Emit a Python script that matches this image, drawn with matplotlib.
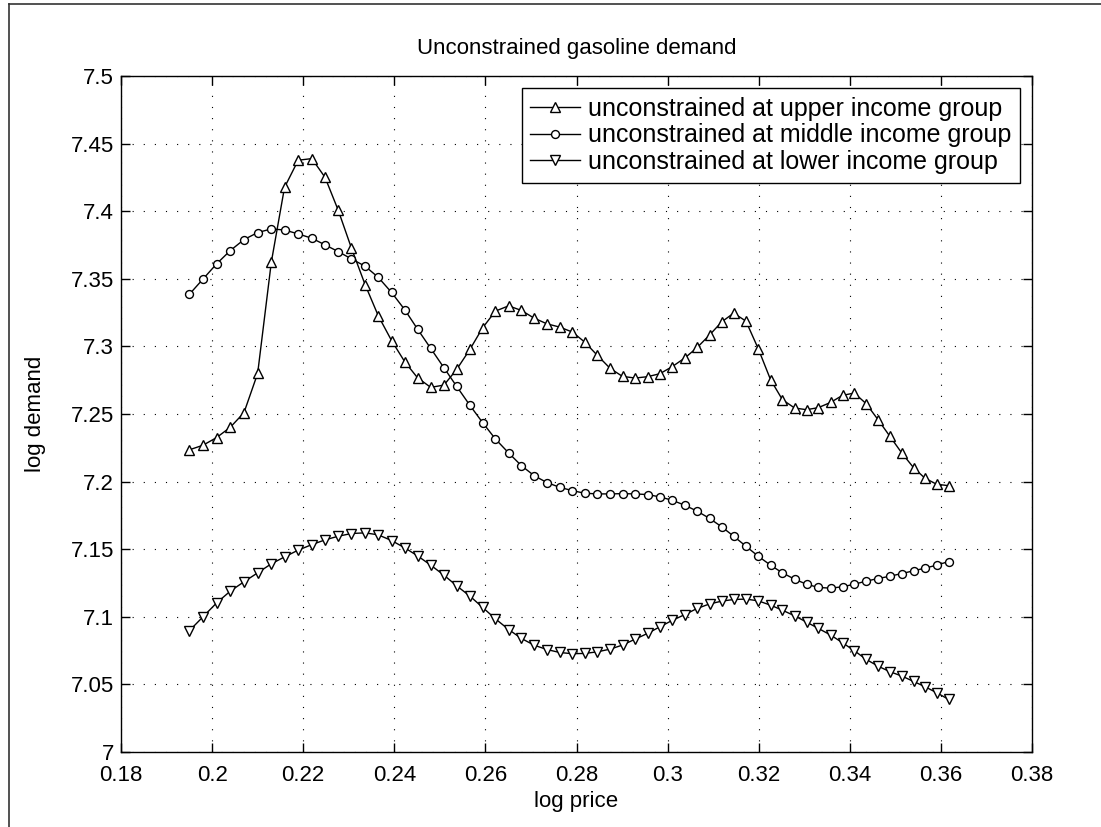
import numpy as np
import matplotlib
matplotlib.use("Agg")
import matplotlib.pyplot as plt
from matplotlib.lines import Line2D

plt.rcParams['font.family'] = ['Liberation Sans', 'DejaVu Sans']

log_price = [0.1950, 0.1980, 0.2010, 0.2040, 0.2070, 0.2100, 0.2130, 0.2159, 0.2189, 0.2219,
             0.2248, 0.2277, 0.2306, 0.2336, 0.2365, 0.2394, 0.2423, 0.2451, 0.2480, 0.2509,
             0.2537, 0.2566, 0.2594, 0.2622, 0.2651, 0.2679, 0.2707, 0.2735, 0.2763, 0.2791,
             0.2818, 0.2846, 0.2874, 0.2901, 0.2929, 0.2956, 0.2983, 0.3010, 0.3038, 0.3065,
             0.3092, 0.3119, 0.3145, 0.3172, 0.3199, 0.3226, 0.3252, 0.3279, 0.3305, 0.3331,
             0.3358, 0.3384, 0.3410, 0.3436, 0.3462, 0.3488, 0.3514, 0.3540, 0.3565, 0.3591,
             0.3617]

upper = [7.2235, 7.2269, 7.2326, 7.2402, 7.2510, 7.2800, 7.3623, 7.4176, 7.4377, 7.4389,
         7.4250, 7.4006, 7.3726, 7.3456, 7.3225, 7.3043, 7.2886, 7.2768, 7.2697, 7.2714,
         7.2830, 7.2978, 7.3138, 7.3261, 7.3300, 7.3266, 7.3209, 7.3167, 7.3143, 7.3106,
         7.3032, 7.2933, 7.2837, 7.2778, 7.2766, 7.2776, 7.2798, 7.2850, 7.2915, 7.2992,
         7.3084, 7.3182, 7.3246, 7.3187, 7.2983, 7.2754, 7.2606, 7.2544, 7.2532, 7.2547,
         7.2586, 7.2638, 7.2655, 7.2576, 7.2458, 7.2335, 7.2212, 7.2103, 7.2025, 7.1980,
         7.1970]

middle = [7.3385, 7.3498, 7.3611, 7.3709, 7.3790, 7.3842, 7.3869, 7.3861, 7.3832, 7.3800,
          7.3751, 7.3701, 7.3647, 7.3593, 7.3510, 7.3399, 7.3271, 7.3128, 7.2985, 7.2842,
          7.2704, 7.2564, 7.2436, 7.2315, 7.2212, 7.2118, 7.2044, 7.1993, 7.1958, 7.1933,
          7.1914, 7.1909, 7.1909, 7.1911, 7.1909, 7.1904, 7.1887, 7.1862, 7.1825, 7.1781,
          7.1728, 7.1665, 7.1596, 7.1522, 7.1448, 7.1382, 7.1325, 7.1278, 7.1241, 7.1217,
          7.1212, 7.1222, 7.1241, 7.1264, 7.1283, 7.1300, 7.1320, 7.1340, 7.1360, 7.1382,
          7.1409]

lower = [7.0897, 7.1000, 7.1103, 7.1190, 7.1259, 7.1325, 7.1392, 7.1443, 7.1493, 7.1534,
         7.1569, 7.1596, 7.1616, 7.1621, 7.1606, 7.1564, 7.1510, 7.1451, 7.1382, 7.1308,
         7.1229, 7.1153, 7.1069, 7.0985, 7.0906, 7.0840, 7.0790, 7.0758, 7.0736, 7.0727,
         7.0729, 7.0741, 7.0761, 7.0791, 7.0835, 7.0877, 7.0926, 7.0973, 7.1017, 7.1062,
         7.1095, 7.1116, 7.1128, 7.1131, 7.1118, 7.1086, 7.1049, 7.1007, 7.0961, 7.0914,
         7.0865, 7.0808, 7.0749, 7.0685, 7.0635, 7.0594, 7.0562, 7.0522, 7.0483, 7.0438,
         7.0389]

series_labels = ["unconstrained at upper income group",
                 "unconstrained at middle income group",
                 "unconstrained at lower income group"]

x_ticks = [0.18, 0.20, 0.22, 0.24, 0.26, 0.28, 0.30, 0.32, 0.34, 0.36, 0.38]
x_ticklabels = ["0.18", "0.2", "0.22", "0.24", "0.26", "0.28", "0.3", "0.32", "0.34", "0.36", "0.38"]
y_ticks = [7.0, 7.05, 7.1, 7.15, 7.2, 7.25, 7.3, 7.35, 7.4, 7.45, 7.5]
y_ticklabels = ["7", "7.05", "7.1", "7.15", "7.2", "7.25", "7.3", "7.35", "7.4", "7.45", "7.5"]

W, H = 1101, 827
fig = plt.figure(figsize=(W / 100, H / 100), dpi=100)
ax_l, ax_r, ax_t, ax_b = 121, 1032, 76, 752
ax = fig.add_axes([ax_l / W, 1 - ax_b / H, (ax_r - ax_l) / W, (ax_b - ax_t) / H])

common = dict(color='black', linewidth=1.0, markerfacecolor='white',
              markeredgecolor='black', markeredgewidth=1.0)
ax.plot(log_price, upper, marker='^', markersize=7, label=series_labels[0], **common)
ax.plot(log_price, middle, marker='o', markersize=5.7, label=series_labels[1], **common)
ax.plot(log_price, lower, marker='v', markersize=7, label=series_labels[2], **common)

ax.set_xlim(0.18, 0.38)
ax.set_ylim(7.0, 7.5)
ax.set_xticks(x_ticks)
ax.set_xticklabels(x_ticklabels)
ax.set_yticks(y_ticks)
ax.set_yticklabels(y_ticklabels)
ax.tick_params(direction='in', length=6.5, width=1, top=True, right=True,
               labelsize=16, colors='black')
ax.tick_params(axis='x', pad=9.5)
ax.tick_params(axis='y', pad=5)
ax.grid(True, color='black', linestyle=(0, (1, 9)), linewidth=0.8)
for s in ax.spines.values():
    s.set_linewidth(1.0)
    s.set_color('black')

ax.set_title("Unconstrained gasoline demand", fontsize=16, pad=16)
ax.set_xlabel("log price", fontsize=16, va='center')
ax.set_ylabel("log demand", fontsize=16, va='center')
ax.xaxis.set_label_coords(0.5, (ax_b - 801) / (ax_b - ax_t))
ax.yaxis.set_label_coords((36 - ax_l) / (ax_r - ax_l), 0.5)

leg = ax.legend(loc='upper right', fontsize=18, frameon=True, fancybox=False,
                edgecolor='black', framealpha=1, borderaxespad=0.48,
                handlelength=2.0, handletextpad=0.3, borderpad=0.35, labelspacing=0.1)
leg.get_frame().set_linewidth(1.0)

# outer frame remnants
fig.add_artist(Line2D([9 / W, 1.0], [1 - 4 / H, 1 - 4 / H], color='#333333', linewidth=1.2))
fig.add_artist(Line2D([9 / W, 9 / W], [0.0, 1 - 4 / H], color='#333333', linewidth=1.2))

fig.savefig("out.png", dpi=100, facecolor='white')
